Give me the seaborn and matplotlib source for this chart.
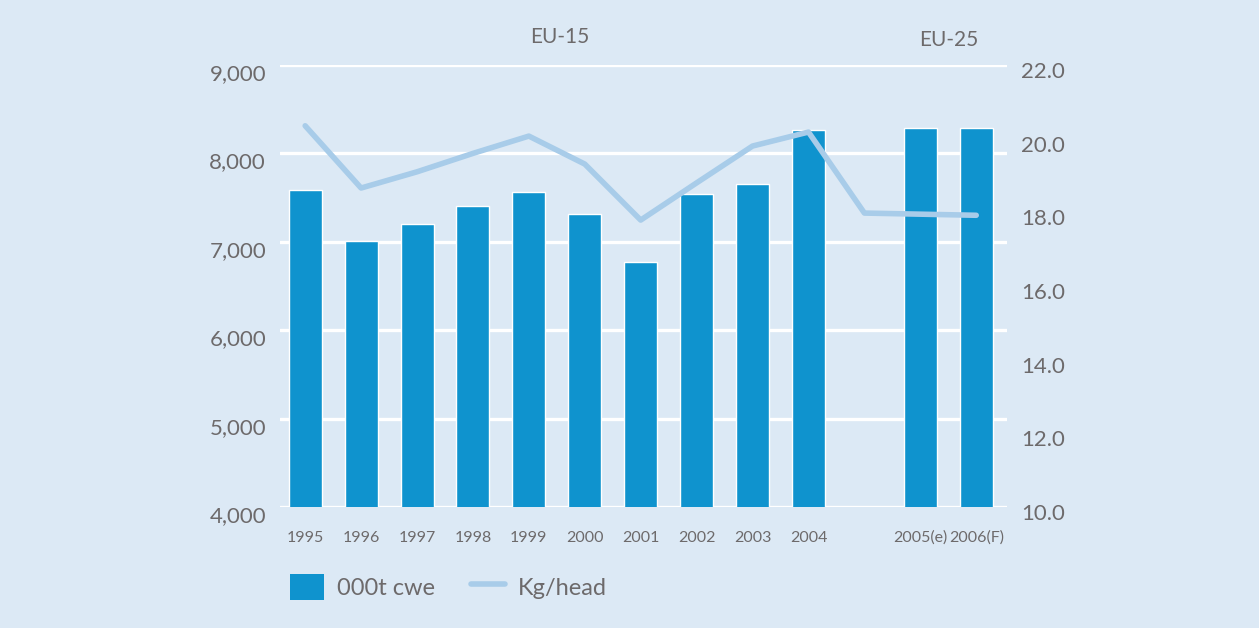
import numpy as np
import pandas as pd
import matplotlib
matplotlib.use("Agg")
import matplotlib.pyplot as plt
import matplotlib.transforms as mtrans
import seaborn as sns
from matplotlib.patches import Patch
from matplotlib.lines import Line2D

# ---- data ----
labels = ["1995", "1996", "1997", "1998", "1999", "2000", "2001", "2002",
          "2003", "2004", " ", "2005(e)", "2006(F)"]
cwe = [7590, 7010, 7200, 7400, 7560, 7310, 6770, 7540, 7650, 8265,
       np.nan, 8290, 8290]
kg_head = [20.35, 18.66, 19.1, 19.6, 20.07, 19.31, 17.79, 18.8, 19.8, 20.18,
           17.98, 17.95, 17.92]
left_ticks = [4000, 5000, 6000, 7000, 8000, 9000]
right_ticks = [10.0, 12.0, 14.0, 16.0, 18.0, 20.0, 22.0]
group_labels = ["EU-15", "EU-25"]
legend_labels = ["000t cwe", "Kg/head"]

BG = "#dce9f5"
BAR = "#0f93ce"
LINE = "#a8cce9"
TXT = "#6d6a6b"

sns.set_theme(style="white")
plt.rcParams["font.family"] = ["Lato", "DejaVu Sans"]

df = pd.DataFrame({"label": labels, "cwe": cwe, "kg": kg_head,
                   "pos": np.arange(len(labels))})

fig = plt.figure(figsize=(12.59, 6.28), dpi=100, facecolor=BG)
ax = fig.add_axes([280 / 1259, 1 - 507 / 628, (1007 - 280) / 1259, (507 - 65) / 628])
ax.set_facecolor(BG)

sns.barplot(data=df, x="label", y="cwe", order=labels, color=BAR,
            saturation=1, width=0.59, ax=ax, zorder=2)
ax.set_ylim(4000, 9000)
ax.set_yticks(left_ticks)
ax.set_yticklabels([f"{v:,}" for v in left_ticks])
for y in left_ticks:
    ax.axhline(y, color="white", lw=2.4, zorder=1)
ax.set_xlabel("")
ax.set_ylabel("")

ax2 = ax.twinx()
sns.lineplot(data=df, x="pos", y="kg", color=LINE, lw=4, ax=ax2,
             sort=False, zorder=3)
ax2.set_ylim(10, 22)
ax2.set_yticks(right_ticks)
ax2.set_yticklabels([f"{v:.1f}" for v in right_ticks])
ax2.set_xlabel("")
ax2.set_ylabel("")
ax.set_xlim(-0.45, 12.55)

for a in (ax, ax2):
    for s in a.spines.values():
        s.set_visible(False)
ax.tick_params(axis="y", length=0, pad=10, labelsize=16, labelcolor=TXT)
ax2.tick_params(axis="y", length=0, pad=10, labelsize=16, labelcolor=TXT)
ax.tick_params(axis="x", length=0, pad=17, labelsize=11.5, labelcolor=TXT)

# reference tick labels sit slightly below their gridlines
off_l = mtrans.ScaledTranslation(0, -7 / 100, fig.dpi_scale_trans)
off_r = mtrans.ScaledTranslation(0, -5 / 100, fig.dpi_scale_trans)
for t in ax.get_yticklabels():
    t.set_transform(t.get_transform() + off_l)
for t in ax2.get_yticklabels():
    t.set_transform(t.get_transform() + off_r)

fig.text(560 / 1259, 1 - 37 / 628, group_labels[0], ha="center", va="center",
         fontsize=15, color=TXT)
fig.text(949 / 1259, 1 - 40 / 628, group_labels[1], ha="center", va="center",
         fontsize=15, color=TXT)

handles = [Patch(facecolor=BAR, edgecolor="none"),
           Line2D([0], [0], color=LINE, lw=4)]
leg = fig.legend(handles, legend_labels, loc="center left",
                 bbox_to_anchor=(290 / 1259, 1 - 587 / 628), ncol=2,
                 frameon=False, fontsize=17, handlelength=1.45,
                 handleheight=1.35, handletextpad=0.55, columnspacing=1.5,
                 borderpad=0, borderaxespad=0, labelcolor=TXT)

fig.savefig("out.png", dpi=100, facecolor=BG)
